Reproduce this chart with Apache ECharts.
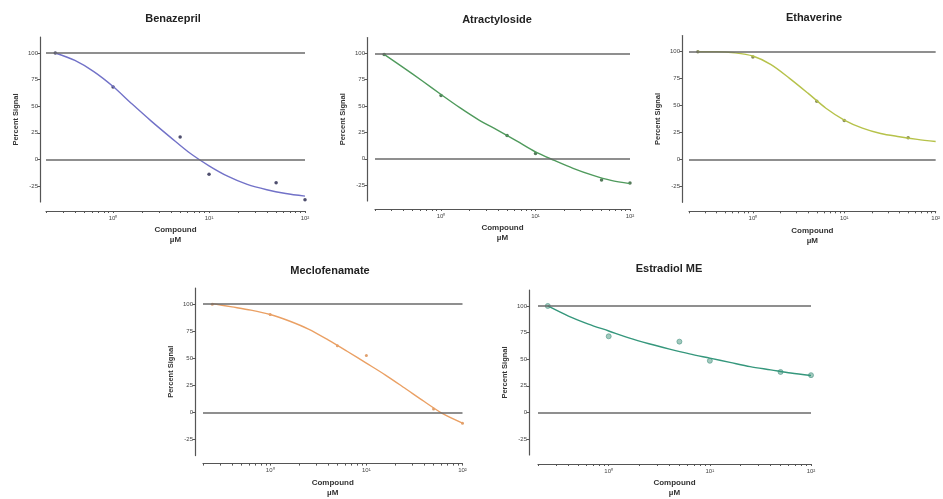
<!DOCTYPE html>
<html>
<head>
<meta charset="utf-8">
<script src="https://cdn.jsdelivr.net/npm/echarts@6/dist/echarts.min.js"></script>
<style>
  html, body { margin: 0; padding: 0; background: #fff; }
  #chart { width: 943px; height: 499px; }
</style>
</head>
<body>
<div id="chart"></div>
<script>
// compound concentrations of the measured points (µM)
const conc = [0.25, 1, 5, 10, 50, 100]

// measured percent signal
const benazeprilPts = [100, 68, 21, -14, -22, -38]
const atractylosidePts = [99, 60, 22, 5, -20, -23]
const ethaverinePts = [100, 95, 54, 36, 20]
const meclofenamatePts = [100, 90.5, 61.5, 52.5, 3, -10]
const estradiolPts = [100, 71.5, 66.5, 48.5, 38, 35]

// fitted curves at these concentrations
const fitConc = [0.25, 0.4, 0.63, 1, 1.58, 2.5, 4, 6.3, 10, 15.8, 25, 40, 63, 100]
const benazeprilFit = [100, 93, 82.5, 68.5, 52, 36, 20.5, 6, -6, -16, -23.5, -28.5, -32, -34.5]
const atractylosideFit = [99, 86.5, 74, 61, 48.5, 37, 27, 17, 6.5, -1.5, -9, -15.5, -20.5, -23.5]
const ethaverineFit = [100, 100, 99, 96, 88, 75.5, 61.5, 47.5, 36.5, 29, 24, 21, 18.5, 16.5]
const meclofenamateFit = [100.5, 97.5, 94.5, 90.5, 84.5, 77, 67, 56.5, 45.5, 34.5, 22.5, 10, -1.5, -10]
const estradiolFit = [100, 90.5, 83, 76.5, 70, 64.5, 59.5, 55, 51, 47, 43, 40, 37, 34.7]

// axes
const xMin = 0.2
const xMax = 100
const xLabelValues = [1, 10, 100]
const xLabelText = ['10⁰', '10¹', '10²']
const xTickValues = [0.2, 0.3, 0.4, 0.5, 0.6, 0.7, 0.8, 0.9, 1, 2, 3, 4, 5, 6, 7, 8, 9,
  10, 20, 30, 40, 50, 60, 70, 80, 90, 100]
const yMin = -40
const yMax = 115
const yTicks = [-25, 0, 25, 50, 75, 100]
const refLines = [0, 100]

const panels = [
  { name: 'Benazepril', pts: benazeprilPts, fit: benazeprilFit,
    line: '#7272c8', dot: '#22224a', size: 3.5,
    left: 46, right: 638, top: 37, bottom: 297, yOff: 6, xOff: 9, tx: 168, ty: 8 },
  { name: 'Atractyloside', pts: atractylosidePts, fit: atractylosideFit,
    line: '#4f9a5c', dot: '#2a5a32', size: 3.5,
    left: 375, right: 313, top: 37.5, bottom: 298, yOff: 8, xOff: 8, tx: 492, ty: 9 },
  { name: 'Ethaverine', pts: ethaverinePts, fit: ethaverineFit,
    line: '#b6c24a', dot: '#6a7030', size: 3.5,
    left: 689, right: -2, top: 35.6, bottom: 296.7, yOff: 7, xOff: 9, tx: 809, ty: 7 },
  { name: 'Meclofenamate', pts: meclofenamatePts, fit: meclofenamateFit,
    line: '#eaa064', dot: '#d8884a', size: 3,
    left: 203, right: 480.5, top: 288, bottom: 43.4, yOff: 8, xOff: 8, tx: 325, ty: 260 },
  { name: 'Estradiol ME', pts: estradiolPts, fit: estradiolFit,
    line: '#35977c', dot: '#8cbcae', size: 5,
    left: 538, right: 132, top: 290, bottom: 35, yOff: 9, xOff: 9, tx: 664, ty: 258 }
]

const titles = []
const grids = []
const xAxes = []
const yAxes = []
const series = []

panels.forEach(function (p, i) {
  titles.push({
    text: p.name,
    left: p.tx,
    top: p.ty,
    textAlign: 'center',
    textStyle: { fontFamily: 'Liberation Sans', fontSize: 11, fontWeight: 'bold', color: '#222' }
  })
  grids.push({ left: p.left, right: p.right, top: p.top, bottom: p.bottom })
  xAxes.push({
    gridIndex: i,
    type: 'log',
    min: xMin,
    max: xMax,
    offset: p.xOff,
    name: 'Compound\nµM',
    nameLocation: 'middle',
    nameGap: 14,
    nameTextStyle: { fontFamily: 'Liberation Sans', fontSize: 8, fontWeight: 'bold', color: '#333', lineHeight: 10 },
    axisLine: { onZero: false, lineStyle: { color: '#555', width: 1.2 } },
    axisTick: { customValues: xTickValues, length: 2, lineStyle: { color: '#555' } },
    axisLabel: {
      customValues: xLabelValues,
      margin: 4,
      fontFamily: 'Liberation Sans',
      fontSize: 6,
      color: '#444',
      formatter: function (v) { return xLabelText[xLabelValues.indexOf(v)] || '' }
    },
    splitLine: { show: false },
    minorTick: { show: false }
  })
  yAxes.push({
    gridIndex: i,
    type: 'value',
    min: yMin,
    max: yMax,
    offset: p.yOff,
    name: 'Percent Signal',
    nameLocation: 'middle',
    nameGap: 20,
    nameTextStyle: { fontFamily: 'Liberation Sans', fontSize: 7.5, fontWeight: 'bold', color: '#333' },
    axisLine: { show: true, onZero: false, lineStyle: { color: '#555', width: 1.2 } },
    axisTick: { show: true, customValues: yTicks, length: 2.5, lineStyle: { color: '#555' } },
    axisLabel: { customValues: yTicks, margin: 2, fontFamily: 'Liberation Sans', fontSize: 6, color: '#444' },
    splitLine: { show: false }
  })
  series.push({
    type: 'line',
    xAxisIndex: i,
    yAxisIndex: i,
    data: fitConc.map(function (x, k) { return [x, p.fit[k]] }),
    showSymbol: false,
    smooth: 0.3,
    lineStyle: { color: p.line, width: 1.4 },
    clip: false,
    silent: true,
    markLine: {
      silent: true,
      symbol: 'none',
      label: { show: false },
      lineStyle: { color: '#6a6a6a', width: 1.5, type: 'solid' },
      data: refLines.map(function (v) { return { yAxis: v } })
    }
  })
  series.push({
    type: 'scatter',
    xAxisIndex: i,
    yAxisIndex: i,
    data: p.pts.map(function (v, k) { return [conc[k], v] }),
    symbol: 'circle',
    symbolSize: p.size,
    clip: false,
    itemStyle: i === 4 ? { color: p.dot, borderColor: '#4f9988', borderWidth: 0.8 } : { color: p.dot }
  })
})

const chart = echarts.init(document.getElementById('chart'), null, { renderer: 'canvas' })
chart.setOption({
  backgroundColor: '#fff',
  animation: false,
  title: titles,
  grid: grids,
  xAxis: xAxes,
  yAxis: yAxes,
  series: series
})
</script>
</body>
</html>
